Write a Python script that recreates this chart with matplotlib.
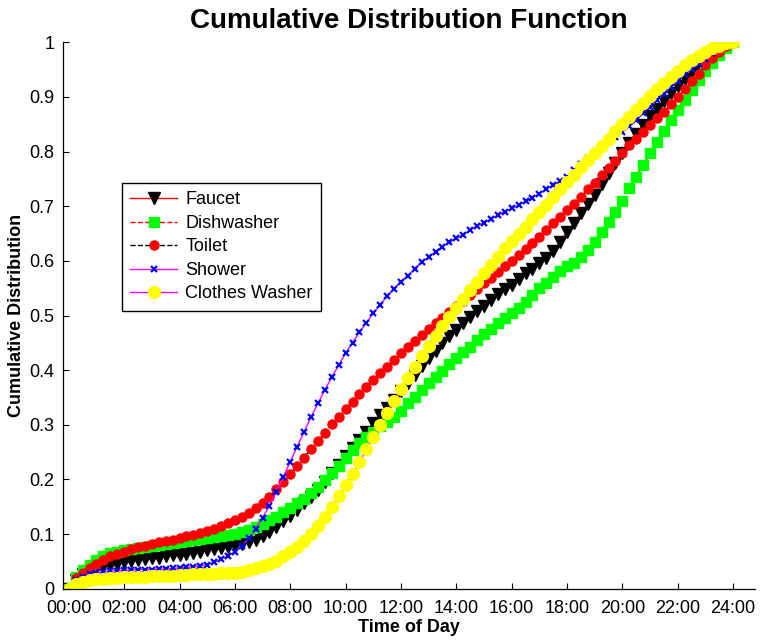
import numpy as np
import matplotlib
matplotlib.use("Agg")
from matplotlib import pyplot as plt

plt.rcParams['font.family'] = ['Liberation Sans', 'DejaVu Sans']

# sample times, every 15 minutes over the day (hours)
hours = np.arange(0, 24.25, 0.25)

faucet = [
    0.000, 0.015, 0.027, 0.033, 0.038, 0.041, 0.043, 0.046, 0.048, 0.050, 0.052, 0.054,
    0.056, 0.057, 0.059, 0.061, 0.062, 0.064, 0.066, 0.068, 0.070, 0.072, 0.074, 0.077,
    0.079, 0.082, 0.086, 0.090, 0.096, 0.103, 0.112, 0.123, 0.133, 0.144, 0.156, 0.168,
    0.181, 0.196, 0.211, 0.226, 0.243, 0.257, 0.272, 0.287, 0.303, 0.318, 0.331, 0.345,
    0.362, 0.376, 0.392, 0.408, 0.422, 0.435, 0.449, 0.462, 0.474, 0.486, 0.497, 0.509,
    0.518, 0.528, 0.539, 0.548, 0.556, 0.567, 0.577, 0.586, 0.596, 0.606, 0.619, 0.635,
    0.653, 0.669, 0.687, 0.704, 0.721, 0.741, 0.760, 0.780, 0.797, 0.815, 0.833, 0.849,
    0.865, 0.878, 0.893, 0.908, 0.920, 0.933, 0.946, 0.958, 0.970, 0.980, 0.989, 0.996,
    1.000]

dishwasher = [
    0.000, 0.022, 0.035, 0.044, 0.053, 0.060, 0.065, 0.068, 0.071, 0.073, 0.075, 0.077,
    0.078, 0.080, 0.082, 0.084, 0.085, 0.087, 0.089, 0.091, 0.092, 0.094, 0.096, 0.098,
    0.100, 0.103, 0.107, 0.112, 0.118, 0.125, 0.132, 0.140, 0.147, 0.156, 0.165, 0.176,
    0.187, 0.199, 0.211, 0.225, 0.239, 0.253, 0.266, 0.277, 0.287, 0.297, 0.306, 0.315,
    0.326, 0.339, 0.351, 0.364, 0.376, 0.388, 0.399, 0.411, 0.422, 0.433, 0.443, 0.455,
    0.466, 0.476, 0.486, 0.495, 0.504, 0.514, 0.525, 0.537, 0.550, 0.560, 0.571, 0.581,
    0.591, 0.597, 0.607, 0.620, 0.635, 0.653, 0.672, 0.690, 0.710, 0.733, 0.754, 0.775,
    0.797, 0.818, 0.838, 0.858, 0.876, 0.894, 0.913, 0.931, 0.948, 0.963, 0.977, 0.990,
    1.000]

toilet = [
    0.000, 0.020, 0.029, 0.037, 0.045, 0.053, 0.059, 0.064, 0.068, 0.072, 0.076, 0.079,
    0.082, 0.085, 0.087, 0.090, 0.093, 0.096, 0.099, 0.102, 0.106, 0.110, 0.115, 0.120,
    0.126, 0.132, 0.139, 0.147, 0.157, 0.168, 0.182, 0.196, 0.210, 0.225, 0.240, 0.256,
    0.271, 0.285, 0.301, 0.315, 0.329, 0.342, 0.356, 0.370, 0.382, 0.394, 0.406, 0.418,
    0.431, 0.443, 0.453, 0.464, 0.476, 0.486, 0.496, 0.507, 0.517, 0.527, 0.537, 0.548,
    0.559, 0.569, 0.580, 0.590, 0.600, 0.611, 0.621, 0.632, 0.643, 0.656, 0.669, 0.681,
    0.693, 0.705, 0.717, 0.731, 0.743, 0.757, 0.770, 0.783, 0.798, 0.812, 0.824, 0.836,
    0.848, 0.861, 0.873, 0.887, 0.900, 0.915, 0.929, 0.943, 0.958, 0.971, 0.983, 0.993,
    1.000]

shower = [
    0.000, 0.015, 0.022, 0.026, 0.029, 0.031, 0.032, 0.033, 0.034, 0.034, 0.035, 0.035,
    0.035, 0.036, 0.036, 0.037, 0.038, 0.039, 0.040, 0.042, 0.044, 0.048, 0.054, 0.060,
    0.068, 0.078, 0.092, 0.109, 0.130, 0.152, 0.177, 0.205, 0.232, 0.260, 0.287, 0.314,
    0.339, 0.364, 0.387, 0.409, 0.431, 0.450, 0.469, 0.487, 0.504, 0.520, 0.535, 0.549,
    0.562, 0.573, 0.586, 0.598, 0.607, 0.617, 0.626, 0.634, 0.641, 0.648, 0.656, 0.664,
    0.670, 0.676, 0.684, 0.690, 0.696, 0.702, 0.709, 0.716, 0.723, 0.731, 0.739, 0.746,
    0.754, 0.766, 0.777, 0.788, 0.798, 0.808, 0.817, 0.826, 0.836, 0.846, 0.857, 0.871,
    0.882, 0.894, 0.906, 0.918, 0.930, 0.942, 0.951, 0.960, 0.970, 0.980, 0.989, 0.995,
    1.000]

clothes_washer = [
    0.000, 0.009, 0.013, 0.015, 0.017, 0.018, 0.019, 0.020, 0.021, 0.021, 0.022, 0.022,
    0.023, 0.023, 0.024, 0.024, 0.025, 0.025, 0.026, 0.026, 0.027, 0.027, 0.028, 0.028,
    0.029, 0.031, 0.034, 0.038, 0.042, 0.046, 0.051, 0.059, 0.067, 0.076, 0.088, 0.100,
    0.115, 0.132, 0.150, 0.170, 0.190, 0.210, 0.231, 0.255, 0.278, 0.300, 0.321, 0.344,
    0.365, 0.386, 0.405, 0.426, 0.445, 0.462, 0.481, 0.498, 0.514, 0.531, 0.547, 0.562,
    0.577, 0.592, 0.608, 0.623, 0.636, 0.649, 0.662, 0.676, 0.690, 0.702, 0.717, 0.731,
    0.744, 0.757, 0.771, 0.784, 0.798, 0.811, 0.824, 0.838, 0.850, 0.863, 0.876, 0.889,
    0.902, 0.914, 0.925, 0.937, 0.948, 0.958, 0.967, 0.975, 0.983, 0.989, 0.994, 0.998,
    1.000]

tick_hours = np.arange(0, 25, 2)
tick_labels = ['%02d:00' % h for h in tick_hours]

fig = plt.figure(figsize=(7.6, 6.4), dpi=100)
ax = fig.add_axes([0.0825, 0.0802, 0.9109, 0.8536])

ax.plot(hours, faucet, '-', color='red', lw=1, marker='v', ms=8,
        mfc='black', mec='black', label='Faucet')
ax.plot(hours, dishwasher, '--', color='red', lw=1, marker='s', ms=6.5,
        mfc=(0, 1, 0), mec=(0, 1, 0), label='Dishwasher')
ax.plot(hours, toilet, '--', color='black', lw=1, marker='o', ms=6.5,
        mfc='red', mec='red', label='Toilet')
ax.plot(hours, shower, '-', color='magenta', lw=1, marker='x', ms=4.5, mew=1.6,
        mfc='blue', mec='blue', label='Shower')
ax.plot(hours, clothes_washer, '-', color='magenta', lw=1, marker='o', ms=8.5,
        mfc='yellow', mec='yellow', label='Clothes Washer')

ax.set_xlim(-0.22, 24.79)
ax.set_ylim(0, 1)
ax.set_xticks(tick_hours)
ax.set_xticklabels(tick_labels)
ax.set_yticks(np.arange(0, 1.01, 0.1))
ax.set_yticklabels(['0', '0.1', '0.2', '0.3', '0.4', '0.5', '0.6', '0.7', '0.8', '0.9', '1'])
ax.tick_params(direction='in', length=4.5, width=0.8, labelsize=13)
ax.tick_params(axis='x', pad=8)
ax.tick_params(axis='y', pad=6)
ax.spines['top'].set_visible(False)
ax.spines['right'].set_visible(False)
for s in ('left', 'bottom'):
    ax.spines[s].set_linewidth(0.9)

ax.set_title('Cumulative Distribution Function', fontsize=20, fontweight='bold', pad=10)
ax.set_xlabel('Time of Day', fontsize=13, fontweight='bold', labelpad=1.5)
ax.set_ylabel('Cumulative Distribution', fontsize=13, fontweight='bold', labelpad=3)

leg = ax.legend(loc='upper left', bbox_to_anchor=(0.0857, 0.742), fontsize=13,
                frameon=True, fancybox=False, edgecolor='black', framealpha=1,
                handlelength=2.6, handletextpad=0.45, labelspacing=0.36,
                borderpad=0.45, borderaxespad=0)
leg.get_frame().set_linewidth(1.0)

fig.savefig('out.png', dpi=100)
